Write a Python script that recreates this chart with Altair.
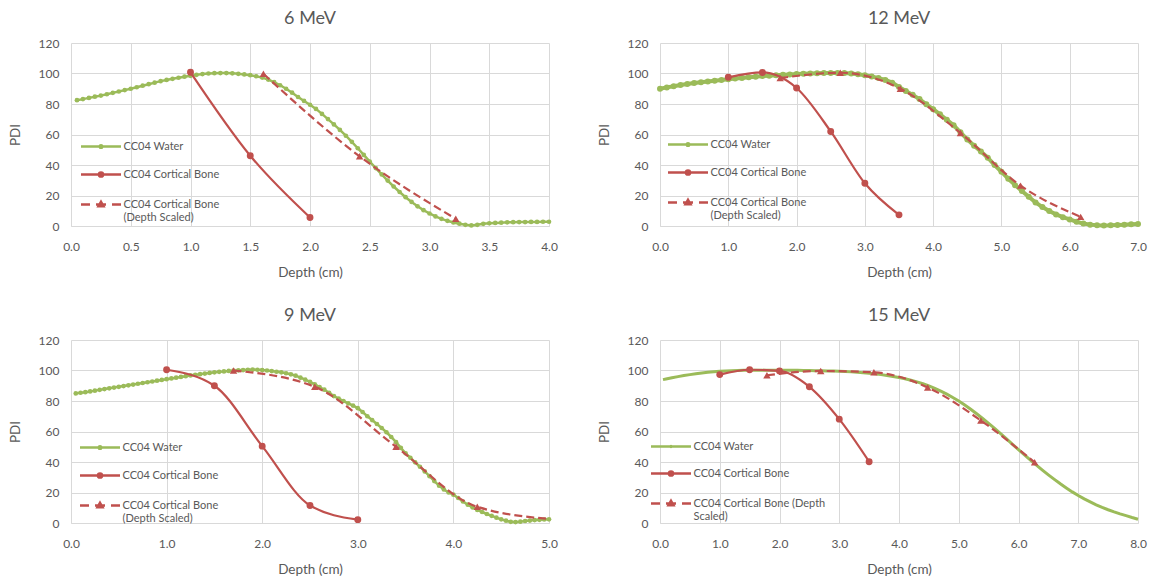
import altair as alt
import numpy as np
import pandas as pd

GREEN = "#9BBB59"
RED = "#C0504D"
TEXT = "#595959"
GRID = "#D9D9D9"
FONT = "Lato"

SERIES = ["CC04 Water", "CC04 Cortical Bone", "CC04 Cortical Bone (Depth Scaled)"]

# ---------------- 6 MeV ----------------
water6_depth = np.round(np.arange(1, 81) * 0.05, 2)
water6_pdi = [
    82.5, 83.2, 84.0, 84.8, 85.5, 86.4, 87.3, 88.2, 89.1, 90.0,
    91.0, 92.0, 93.0, 94.0, 95.0, 95.8, 96.5, 97.2, 97.9, 98.5,
    99.1, 99.6, 100.0, 100.2, 100.3, 100.3, 100.1, 99.8, 99.4, 98.9,
    98.2, 97.3, 96.0, 94.3, 92.3, 90.0, 87.4, 84.6, 82.0, 79.5,
    76.8, 73.5, 70.1, 66.6, 63.0, 59.2, 55.2, 51.0, 46.6, 42.2,
    38.0, 33.8, 29.8, 25.9, 22.3, 18.9, 15.8, 12.9, 10.4, 8.2,
    6.3, 4.7, 3.4, 2.3, 1.5, 0.8, 0.4, 0.8, 1.4, 1.8,
    2.0, 2.2, 2.4, 2.5, 2.6, 2.6, 2.7, 2.7, 2.8, 2.8,
]
bone6_depth = [1.0, 1.5, 2.0]
bone6_pdi = [100.8, 46.1, 5.6]
scaled6_depth = [1.61, 2.415, 3.22]
scaled6_pdi = [99.8, 45.7, 4.7]

# ---------------- 9 MeV ----------------
water9_depth = np.round(np.arange(1, 101) * 0.05, 2)
water9_pdi = [
    85.0, 85.4, 85.8, 86.3, 86.8, 87.3, 87.8, 88.3, 88.8, 89.3,
    89.8, 90.3, 90.8, 91.3, 91.8, 92.3, 92.8, 93.3, 93.8, 94.3,
    94.8, 95.3, 95.8, 96.3, 96.8, 97.2, 97.6, 98.0, 98.4, 98.8,
    99.1, 99.4, 99.7, 99.9, 100.1, 100.3, 100.5, 100.6, 100.5, 100.3,
    100.0, 99.6, 99.2, 98.8, 98.2, 97.5, 96.6, 95.3, 94.0, 92.6,
    91.0, 89.2, 87.4, 85.4, 83.2, 81.5, 80.0, 78.5, 77.0, 75.3,
    72.8, 70.0, 67.5, 64.9, 62.3, 59.5, 56.4, 53.0, 49.3, 45.7,
    42.8, 39.8, 36.9, 33.8, 30.7, 27.5, 24.5, 22.0, 20.0, 18.6,
    16.4, 14.1, 12.0, 10.2, 8.6, 7.2, 5.9, 4.7, 3.5, 2.4,
    1.5, 0.8, 0.6, 0.9, 1.3, 1.6, 1.9, 2.1, 2.3, 2.4,
]
bone9_depth = [1.0, 1.5, 2.0, 2.5, 3.0]
bone9_pdi = [100.5, 90.0, 50.4, 11.5, 2.2]
scaled9_depth = [1.7, 2.55, 3.4, 4.25, 5.1]
scaled9_pdi = [100.0, 89.3, 50.0, 10.6, 2.2]

# ---------------- 12 MeV ----------------
water12_depth = np.round(np.arange(0, 71) * 0.1, 2)
water12_pdi = [
    90.0, 90.9, 91.7, 92.4, 93.1, 93.7, 94.3, 94.8, 95.3, 95.8,
    96.3, 96.7, 97.1, 97.5, 97.9, 98.3, 98.6, 98.9, 99.2, 99.4,
    99.6, 99.8, 100.0, 100.2, 100.3, 100.4, 100.4, 100.3, 100.0, 99.5,
    98.8, 98.0, 97.0, 95.8, 94.0, 91.2, 88.6, 86.0, 83.2, 79.8,
    76.6, 73.2, 69.6, 66.0, 61.4, 56.8, 52.6, 48.8, 44.8, 40.0,
    35.6, 31.0, 26.8, 23.0, 19.2, 15.4, 12.4, 9.8, 7.6, 5.8,
    4.3, 2.8, 1.6, 0.9, 0.5, 0.4, 0.5, 0.7, 0.9, 1.1,
    1.3,
]
bone12_depth = [1.0, 1.5, 2.0, 2.5, 3.0, 3.5]
bone12_pdi = [97.5, 100.7, 90.5, 62.0, 28.0, 7.3]
scaled12_depth = [1.76, 2.64, 3.52, 4.40, 5.28, 6.16]
scaled12_pdi = [97.0, 100.5, 90.0, 61.0, 26.5, 6.0]

# ---------------- 15 MeV ----------------
water15_depth = np.concatenate([[0.05], np.round(np.arange(1, 81) * 0.1, 2)])
water15_pdi = [
    94.0,
    94.4, 95.2, 96.0, 96.7, 97.3, 97.9, 98.4, 98.8, 99.2, 99.5,
    99.7, 99.9, 100.0, 100.1, 100.1, 100.2, 100.2, 100.2, 100.2, 100.2,
    100.2, 100.1, 100.1, 100.0, 100.0, 99.9, 99.8, 99.7, 99.6, 99.5,
    99.3, 99.1, 98.8, 98.5, 98.2, 97.8, 97.3, 96.7, 96.1, 95.4,
    94.6, 93.6, 92.5, 91.3, 89.9, 88.3, 86.5, 84.5, 82.3, 80.0,
    77.4, 74.6, 71.6, 68.5, 65.3, 62.0, 58.6, 55.1, 51.6, 48.1,
    44.6, 41.2, 37.9, 34.7, 31.6, 28.6, 25.7, 23.0, 20.4, 18.0,
    15.8, 13.8, 11.9, 10.2, 8.7, 7.3, 6.0, 4.8, 3.6, 2.5,
]
bone15_depth = [1.0, 1.5, 2.0, 2.5, 3.0, 3.5]
bone15_pdi = [97.3, 100.5, 99.7, 89.3, 68.1, 40.2]
scaled15_depth = [1.79, 2.69, 3.58, 4.48, 5.37, 6.27]
scaled15_pdi = [96.9, 99.7, 98.8, 88.9, 67.2, 39.8]

# Legend glyphs: a line with the series marker in the middle (drawn with the
# symbol stroke; one unit = 5 px at symbolSize 100)
def dot_path(r):
    return (f"M-4,0H4M{r},0A{r},{r},0,1,1,{-r},0A{r},{r},0,1,1,{r},0Z"
            f"M{r/3:.3f},0A{r/3:.3f},{r/3:.3f},0,1,1,{-r/3:.3f},0"
            f"A{r/3:.3f},{r/3:.3f},0,1,1,{r/3:.3f},0Z")

TRI_PATH = ("M-4,0H-2.2M-1,0H1M2.2,0H4"
            "M0,-0.55L0.5,0.35L-0.5,0.35Z M0,-0.2L0.18,0.12L-0.18,0.12Z")


def panel(title, xmax, xstep, water, bone, scaled, wrap, water_glyph,
          water_size, water_width, legend_x, legend_y):
    ticks = [round(v, 2) for v in np.arange(0, xmax + 1e-9, xstep)]

    def xenc():
        return alt.X("depth:Q", scale=alt.Scale(domain=[0, xmax], nice=False, zero=False),
                     axis=alt.Axis(values=ticks, format=".1f", title="Depth (cm)"))

    def yenc():
        return alt.Y("pdi:Q", scale=alt.Scale(domain=[0, 120], nice=False),
                     axis=alt.Axis(values=[0, 20, 40, 60, 80, 100, 120], title="PDI"))

    wdf = pd.DataFrame({"depth": water[0], "pdi": water[1]})
    bdf = pd.DataFrame({"depth": bone[0], "pdi": bone[1]})
    sdf = pd.DataFrame({"depth": scaled[0], "pdi": scaled[1]})

    layers = [
        alt.Chart(wdf).mark_line(color=GREEN, strokeWidth=water_width).encode(x=xenc(), y=yenc()),
    ]
    if water_size > 0:
        layers.append(
            alt.Chart(wdf).mark_circle(color=GREEN, size=water_size, opacity=1)
            .encode(x=xenc(), y=yenc()))
    layers += [
        alt.Chart(bdf).mark_line(color=RED, strokeWidth=2.2, interpolate="monotone")
        .encode(x=xenc(), y=yenc()),
        alt.Chart(bdf).mark_circle(color=RED, size=48, opacity=1).encode(x=xenc(), y=yenc()),
        alt.Chart(sdf).mark_line(color=RED, strokeWidth=2.2, strokeDash=[8, 4],
                                 interpolate="monotone", clip=True)
        .encode(x=xenc(), y=yenc()),
        alt.Chart(sdf).mark_point(color=RED, shape="triangle-up", filled=True, size=55,
                                  opacity=1, clip=True)
        .encode(x=xenc(), y=yenc()),
    ]

    label_expr = (f"datum.label == '{SERIES[2]}' ? {wrap} : datum.label")
    legend = alt.Legend(
        title=None, orient="none", legendX=legend_x, legendY=legend_y,
        direction="vertical", symbolSize=100, symbolStrokeWidth=2.5,
        symbolOpacity=1, labelOffset=16, rowPadding=14, padding=0,
        labelFont=FONT, labelFontSize=11, labelColor=TEXT, labelExpr=label_expr,
        labelLimit=300,
    )
    key_df = pd.DataFrame({"depth": [-1.0, -1.0, -1.0], "pdi": [0.0, 0.0, 0.0],
                           "series": SERIES})
    key = (
        alt.Chart(key_df)
        .transform_filter("datum.depth > 0")
        .mark_point(filled=False, opacity=1, strokeWidth=2.5, size=100)
        .encode(
            x=xenc(), y=yenc(),
            color=alt.Color("series:N", scale=alt.Scale(domain=SERIES, range=[GREEN, RED, RED]),
                            legend=legend),
            shape=alt.Shape("series:N",
                            scale=alt.Scale(domain=SERIES, range=[water_glyph, dot_path(0.42), TRI_PATH]),
                            legend=legend),
        )
    )
    layers.append(key)

    return alt.layer(*layers).properties(
        width=478, height=183,
        title=alt.Title(title, font=FONT, fontSize=18, fontWeight="normal", color=TEXT, offset=9),
    )


wrap_std = "['CC04 Cortical Bone', '(Depth Scaled)']"
wrap_15 = "['CC04 Cortical Bone (Depth', 'Scaled)']"

p6 = panel("6 MeV", 4.0, 0.5, (water6_depth, water6_pdi), (bone6_depth, bone6_pdi),
           (scaled6_depth, scaled6_pdi), wrap_std, dot_path(0.26), 22, 2.5, 23.5, 97)
p12 = panel("12 MeV", 7.0, 1.0, (water12_depth, water12_pdi), (bone12_depth, bone12_pdi),
            (scaled12_depth, scaled12_pdi), wrap_std, dot_path(0.26), 36, 4, 21.5, 95)
p9 = panel("9 MeV", 5.0, 1.0, (water9_depth, water9_pdi), (bone9_depth, bone9_pdi),
           (scaled9_depth, scaled9_pdi), wrap_std, dot_path(0.26), 22, 2.5, 22.5, 101)
p15 = panel("15 MeV", 8.0, 1.0, (water15_depth, water15_pdi), (bone15_depth, bone15_pdi),
            (scaled15_depth, scaled15_pdi), wrap_15, dot_path(0.1), 0, 3, 4.5, 100)

chart = (
    alt.concat(p6, p12, p9, p15, columns=2, spacing=alt.RowColnumber(row=28, column=39))
    .resolve_scale(x="independent", y="independent", color="independent", shape="independent")
    .resolve_legend(color="independent", shape="independent")
    .properties(padding={"left": 8, "top": 10, "right": 5, "bottom": 3}, background="white")
    .configure_view(stroke=None)
    .configure_axis(
        labelFont=FONT, labelFontSize=12, labelColor=TEXT,
        titleFont=FONT, titleFontSize=13.5, titleFontWeight="normal", titleColor=TEXT,
        gridColor=GRID, gridWidth=1, ticks=False, tickSize=0, domain=False,
        labelFlush=False, labelOverlap=False,
    )
    .configure_axisX(labelPadding=15, titlePadding=13, domain=True, domainColor=GRID)
    .configure_axisY(labelPadding=12, titlePadding=16)
)

chart.save("out.html", embed_options={"renderer": "svg", "actions": False})
